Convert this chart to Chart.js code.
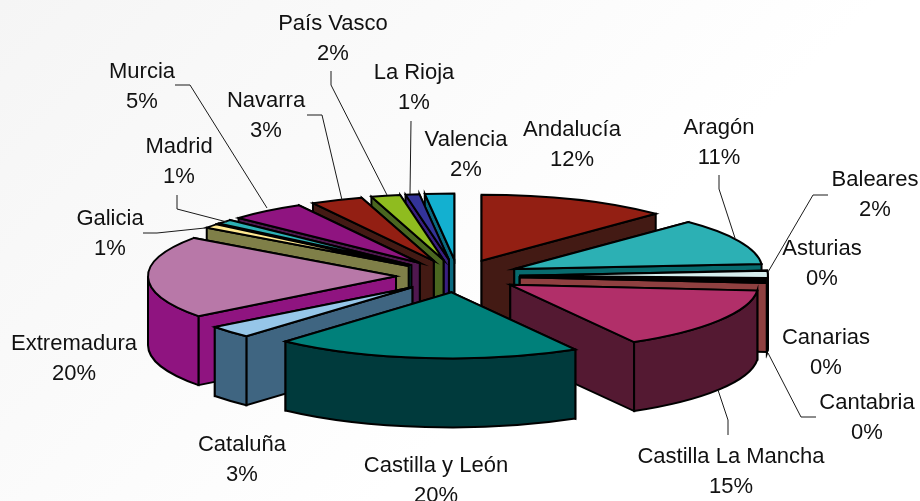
<!DOCTYPE html>
<html>
<head>
<meta charset="utf-8">
<title>Comunidades</title>
<script src="https://cdn.jsdelivr.net/npm/chart.js@4"></script>
<style>
    html, body { margin: 0; padding: 0; }
    body { width: 920px; height: 501px; overflow: hidden; background: linear-gradient(135deg, #f5f5f5 0%, #ffffff 62%); }
    canvas { display: block; }
</style>
</head>
<body>
<canvas id="myPie" width="920" height="501"></canvas>
<script>
const categories = ['Andalucía', 'Aragón', 'Baleares', 'Asturias', 'Canarias', 'Cantabria', 'Castilla La Mancha', 'Castilla y León', 'Cataluña', 'Extremadura', 'Galicia', 'Madrid', 'Murcia', 'Navarra', 'País Vasco', 'La Rioja', 'Valencia'];
const shares = [12.4, 11.4, 1.75, 0.35, 0.3, 0.2, 15.3, 20, 3, 20.2, 1, 1.1, 4.95, 3.4, 1.9, 0.9, 1.9];
const topColors = ['#931f13', '#2cb0b4', '#d6eeee', '#000033', '#8f1480', '#8f4040', '#b12f69', '#00807a', '#96c6e8', '#b878a8', '#ffe890', '#2cb0b4', '#8f1480', '#931f13', '#8fbc1f', '#333399', '#13b0d0'];
const wallColors = ['#431a14', '#086b6e', '#101414', '#000000', '#4f1850', '#8f4040', '#541932', '#003a3c', '#3f6581', '#8f1480', '#7f7f48', '#008080', '#50184f', '#431a14', '#4a6620', '#3a1f80', '#0a6a80'];

// label and leader placement, same order as categories
const labelCenters = [[572, 130], [719, 128], [875, 180], [822, 249], [826, 338], [867, 403], [731, 457], [436, 466], [242, 445], [74, 344], [110, 219], [179, 147], [142, 72], [266, 101], [333, 24], [414, 73], [466, 140]];
const leaders = [
    [[719, 175], [719, 189], [735, 238]],
    [[828, 195], [813, 195], [768, 272]],
    [[816, 417], [801, 417], [768, 353]],
    [[728, 435], [728, 420], [718, 390]],
    [[143, 233], [157, 233], [205, 228]],
    [[177, 195], [177, 209], [227, 222]],
    [[175, 85], [190, 85], [267, 208]],
    [[307, 115], [322, 115], [342, 200]],
    [[331, 71], [331, 85], [387, 195]],
    [[411, 121], [410, 194]]
];

const tilt = 66 / 248;
const explode = 62;
const depth = 69;

function drawSlice(ctx, arc) {
    const { x, y, startAngle, endAngle, outerRadius } = arc.getProps(['x', 'y', 'startAngle', 'endAngle', 'outerRadius'], true);
    const mid = (startAngle + endAngle) / 2;
    const ax = x + Math.cos(mid) * explode;
    const ay = y + Math.sin(mid) * explode * tilt;
    const ry = outerRadius * tilt;
    const px = (t) => ax + Math.cos(t) * outerRadius;
    const py = (t) => ay + Math.sin(t) * ry;

    ctx.lineWidth = 2;
    ctx.strokeStyle = '#000';
    ctx.lineJoin = 'miter';
    ctx.fillStyle = wallColors[arc.$index];

    // radial walls, the one further back goes first
    [startAngle, endAngle].sort((p, q) => py(p) - py(q)).forEach(function (t) {
        ctx.beginPath();
        ctx.moveTo(ax, ay);
        ctx.lineTo(px(t), py(t));
        ctx.lineTo(px(t), py(t) + depth);
        ctx.lineTo(ax, ay + depth);
        ctx.closePath();
        ctx.fill();
        ctx.stroke();
    });

    // outer band, only the front half of the rim shows
    const from = Math.max(startAngle, 0);
    const to = Math.min(endAngle, Math.PI);
    if (from < to) {
        ctx.beginPath();
        ctx.ellipse(ax, ay, outerRadius, ry, 0, from, to);
        ctx.ellipse(ax, ay + depth, outerRadius, ry, 0, to, from, true);
        ctx.closePath();
        ctx.fill();
        ctx.stroke();
    }

    // top face comes from the library's own arc, squashed
    ctx.save();
    ctx.translate(0, ay);
    ctx.scale(1, tilt);
    ctx.translate(ax - x, -y);
    arc.draw(ctx);
    ctx.restore();

    ctx.beginPath();
    ctx.moveTo(ax, ay);
    ctx.ellipse(ax, ay, outerRadius, ry, 0, startAngle, endAngle);
    ctx.closePath();
    ctx.stroke();
}

const pie3d = {
    id: 'pie3d',
    beforeDatasetDraw(chart, args) {
        const arcs = args.meta.data;
        arcs.forEach(function (arc, i) { arc.$index = i; });
        const sorted = arcs.slice().sort(function (p, q) {
            return Math.sin((p.startAngle + p.endAngle) / 2) - Math.sin((q.startAngle + q.endAngle) / 2);
        });
        sorted.forEach(function (arc) { drawSlice(chart.ctx, arc); });
        return false;
    },
    afterDraw(chart) {
        const ctx = chart.ctx;
        const total = shares.reduce(function (s, v) { return s + v; }, 0);
        ctx.save();
        ctx.strokeStyle = '#1a1a1a';
        ctx.lineWidth = 1;
        leaders.forEach(function (line) {
            ctx.beginPath();
            line.forEach(function (p, i) {
                if (i === 0) ctx.moveTo(p[0], p[1]);
                else ctx.lineTo(p[0], p[1]);
            });
            ctx.stroke();
        });
        ctx.fillStyle = '#111';
        ctx.font = '22px "Liberation Sans", Arial, sans-serif';
        ctx.textAlign = 'center';
        ctx.textBaseline = 'middle';
        categories.forEach(function (name, i) {
            const c = labelCenters[i];
            ctx.fillText(name, c[0], c[1]);
            ctx.fillText(Math.round(shares[i] / total * 100) + '%', c[0], c[1] + 30);
        });
        ctx.restore();
    }
};

new Chart('myPie', {
    type: 'pie',
    data: {
        labels: categories,
        datasets: [{
            data: shares,
            backgroundColor: topColors,
            borderWidth: 0,
            clip: false
        }]
    },
    options: {
        responsive: false,
        animation: false,
        radius: 248,
        layout: { padding: { right: 4, top: 51 } },
        plugins: {
            legend: { display: false },
            tooltip: { enabled: false }
        }
    },
    plugins: [pie3d]
});
</script>
</body>
</html>
